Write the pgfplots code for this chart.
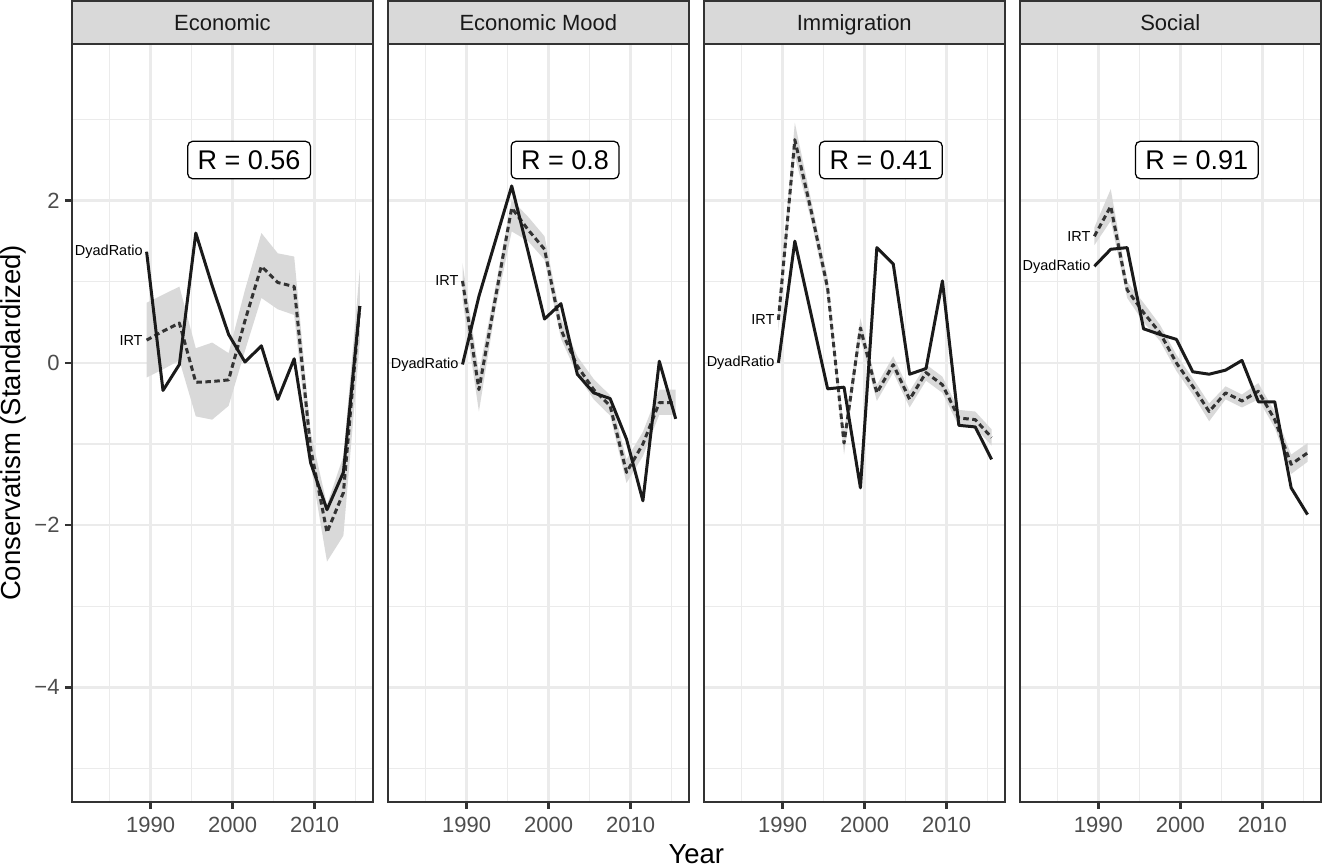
\documentclass[border=0pt]{standalone}
\usepackage{fontspec}
\setmainfont{Liberation Sans}
\usepackage{pgfplots}
\pgfplotsset{compat=1.18}
\usepackage{pgfplotstable}
\usepgfplotslibrary{fillbetween}
\usetikzlibrary{calc}

\definecolor{gridc}{RGB}{235,235,235}
\definecolor{framec}{RGB}{51,51,51}
\definecolor{stripc}{RGB}{217,217,217}
\definecolor{ribbonc}{RGB}{217,217,217}
\definecolor{tickc}{RGB}{77,77,77}
\definecolor{dyadc}{RGB}{26,26,26}
\definecolor{irtc}{RGB}{51,51,51}

% year, DyadRatio, IRT, IRT lower / upper bound
\pgfplotstableread{
year   dyad   irt    lo     hi
1989.5  1.37  0.28  -0.18  0.74
1991.5 -0.34  0.39  -0.08  0.84
1993.5 -0.02  0.49   0.03  0.94
1995.5  1.60 -0.24  -0.66  0.18
1997.5  0.95 -0.23  -0.70  0.25
1999.5  0.35 -0.21  -0.53  0.12
2001.5  0.01  0.52   0.15  0.90
2003.5  0.21  1.19   0.80  1.60
2005.5 -0.45  0.99   0.66  1.35
2007.5  0.05  0.94   0.59  1.31
2009.5 -1.23 -1.05  -1.25 -0.85
2011.5 -1.81 -2.09  -2.45 -1.75
2013.5 -1.35 -1.60  -2.13 -1.15
2015.5  0.70  0.70   0.25  1.15
}\econ

\pgfplotstableread{
year   dyad   irt    lo     hi
1989.5 -0.02  1.01   0.78  1.23
1991.5  0.82 -0.33  -0.60 -0.12
1993.5  1.50  0.79   0.65  0.93
1995.5  2.18  1.91   1.62  2.01
1997.5  1.37  1.64   1.50  1.80
1999.5  0.54  1.40   1.27  1.56
2001.5  0.73  0.41   0.30  0.55
2003.5 -0.14 -0.04  -0.15  0.08
2005.5 -0.37 -0.33  -0.45 -0.20
2007.5 -0.44 -0.53  -0.65 -0.40
2009.5 -0.94 -1.35  -1.48 -1.19
2011.5 -1.70 -1.00  -1.15 -0.85
2013.5  0.02 -0.49  -0.64 -0.33
2015.5 -0.69 -0.49  -0.64 -0.33
}\mood

\pgfplotstableread{
year   dyad   irt    lo     hi
1989.5  0.00  0.53   0.40  0.70
1991.5  1.50  2.75   2.55  2.96
1993.5  0.59  1.87   1.75  2.00
1995.5 -0.32  0.92   0.80  1.05
1997.5 -0.30 -0.99  -1.13 -0.85
1999.5 -1.54  0.43   0.30  0.55
2001.5  1.42 -0.37  -0.47 -0.27
2003.5  1.22 -0.02  -0.12  0.08
2005.5 -0.14 -0.45  -0.55 -0.35
2007.5 -0.07 -0.12  -0.22 -0.02
2009.5  1.01 -0.27  -0.37 -0.17
2011.5 -0.77 -0.68  -0.78 -0.58
2013.5 -0.79 -0.70  -0.80 -0.60
2015.5 -1.19 -0.92  -1.02 -0.82
}\immig

\pgfplotstableread{
year   dyad   irt    lo     hi
1989.5  1.19  1.56   1.45  1.67
1991.5  1.40  1.93   1.75  2.14
1993.5  1.42  0.90   0.80  1.00
1995.5  0.42  0.62   0.50  0.74
1997.5  0.35  0.37   0.27  0.47
1999.5  0.29  0.00  -0.10  0.10
2001.5 -0.11 -0.29  -0.39 -0.19
2003.5 -0.14 -0.60  -0.72 -0.50
2005.5 -0.09 -0.37  -0.45 -0.29
2007.5  0.03 -0.47  -0.55 -0.39
2009.5 -0.48 -0.35  -0.45 -0.25
2011.5 -0.48 -0.70  -0.80 -0.60
2013.5 -1.54 -1.25  -1.37 -1.13
2015.5 -1.87 -1.11  -1.22 -0.99
}\social

\pgfplotsset{
  facet/.style={
    width=120.4bp, height=303.2bp, scale only axis,
    anchor=south west,
    xmin=1980.4, xmax=2017.1, ymin=-5.41, ymax=3.93,
    xtick={1990,2000,2010}, xticklabels={1990,2000,2010},
    minor xtick={1985,1995,2005,2015},
    ytick={-4,-2,0,2}, minor ytick={-5,-3,-1,1,3},
    grid=both,
    major grid style={draw=gridc, line width=1.07bp},
    minor grid style={draw=gridc, line width=0.53bp},
    axis line style={draw=framec, line width=0.7bp},
    tick align=outside, xtick pos=bottom, ytick pos=left,
    major tick length=2.8bp, minor tick length=0pt,
    tick style={draw=framec, line width=1.07bp},
    xticklabel style={font=\fontsize{8.8bp}{10bp}\selectfont, text=tickc},
    yticklabel style={font=\fontsize{8.8bp}{10bp}\selectfont, text=tickc, inner xsep=2bp},
  },
  noy/.style={yticklabels={}, ytick style={draw=none}},
  dyadline/.style={draw=dyadc, line width=1.2bp, line join=round, no marks},
  irtline/.style={draw=irtc, line width=1.2bp, line join=round, no marks, dash pattern=on 2.2bp off 1.4bp},
}
\tikzset{
  lab/.style={font=\fontsize{5.8bp}{7bp}\selectfont, anchor=east, inner sep=0pt, xshift=-1.4bp},
  rlab/.style={draw=black, line width=0.5bp, fill=white, rounded corners=2bp,
    font=\fontsize{10.8bp}{12bp}\selectfont, text height=7.8bp, text depth=0pt,
    inner xsep=4bp, inner ysep=3.6bp},
}

\newcommand{\strip}[2]{%
  \draw[fill=stripc, draw=framec, line width=0.7bp] (#1,328.8bp) rectangle ++(120.4bp,17.2bp);
  \node[anchor=base, inner sep=0pt, text=black!90, font=\fontsize{8.8bp}{10bp}\selectfont] at ($(#1,334.3bp)+(60.2bp,0)$) {#2};
}

\begin{document}
\begin{tikzpicture}

\begin{axis}[facet, at={(28.8bp,25.6bp)}, yticklabels={−4,−2,0,2}]
\addplot[draw=none, name path=hiA] table[x=year, y=hi] {\econ};
\addplot[draw=none, name path=loA] table[x=year, y=lo] {\econ};
\addplot[fill=ribbonc, draw=none] fill between[of=hiA and loA];
\addplot[irtline] table[x=year, y=irt] {\econ};
\addplot[dyadline] table[x=year, y=dyad] {\econ};
\node[lab] at (axis cs:1989.5,1.37) {DyadRatio};
\node[lab] at (axis cs:1989.5,0.28) {IRT};
\node[rlab] at (axis cs:2002,2.5) {R = 0.56};
\end{axis}

\begin{axis}[facet, noy, at={(155.2bp,25.6bp)}]
\addplot[draw=none, name path=hiB] table[x=year, y=hi] {\mood};
\addplot[draw=none, name path=loB] table[x=year, y=lo] {\mood};
\addplot[fill=ribbonc, draw=none] fill between[of=hiB and loB];
\addplot[irtline] table[x=year, y=irt] {\mood};
\addplot[dyadline] table[x=year, y=dyad] {\mood};
\node[lab] at (axis cs:1989.5,-0.02) {DyadRatio};
\node[lab] at (axis cs:1989.5,1.01) {IRT};
\node[rlab] at (axis cs:2002,2.5) {R = 0.8};
\end{axis}

\begin{axis}[facet, noy, at={(281.6bp,25.6bp)}]
\addplot[draw=none, name path=hiC] table[x=year, y=hi] {\immig};
\addplot[draw=none, name path=loC] table[x=year, y=lo] {\immig};
\addplot[fill=ribbonc, draw=none] fill between[of=hiC and loC];
\addplot[irtline] table[x=year, y=irt] {\immig};
\addplot[dyadline] table[x=year, y=dyad] {\immig};
\node[lab] at (axis cs:1989.5,0.00) {DyadRatio};
\node[lab] at (axis cs:1989.5,0.53) {IRT};
\node[rlab] at (axis cs:2002,2.5) {R = 0.41};
\end{axis}

\begin{axis}[facet, noy, at={(408bp,25.6bp)}]
\addplot[draw=none, name path=hiD] table[x=year, y=hi] {\social};
\addplot[draw=none, name path=loD] table[x=year, y=lo] {\social};
\addplot[fill=ribbonc, draw=none] fill between[of=hiD and loD];
\addplot[irtline] table[x=year, y=irt] {\social};
\addplot[dyadline] table[x=year, y=dyad] {\social};
\node[lab] at (axis cs:1989.5,1.19) {DyadRatio};
\node[lab] at (axis cs:1989.5,1.56) {IRT};
\node[rlab] at (axis cs:2002,2.5) {R = 0.91};
\end{axis}

\strip{28.8bp}{Economic}
\strip{155.2bp}{Economic Mood}
\strip{281.6bp}{Immigration}
\strip{408bp}{Social}

\node[rotate=90, anchor=base, inner sep=0pt, font=\fontsize{11bp}{13bp}\selectfont] at (8.2bp,177.2bp) {Conservatism (Standardized)};
\node[anchor=base, inner sep=0pt, font=\fontsize{11bp}{13bp}\selectfont] at (278.6bp,1bp) {Year};
\path (0,0) rectangle (528.8bp,346.4bp);
\end{tikzpicture}
\end{document}
